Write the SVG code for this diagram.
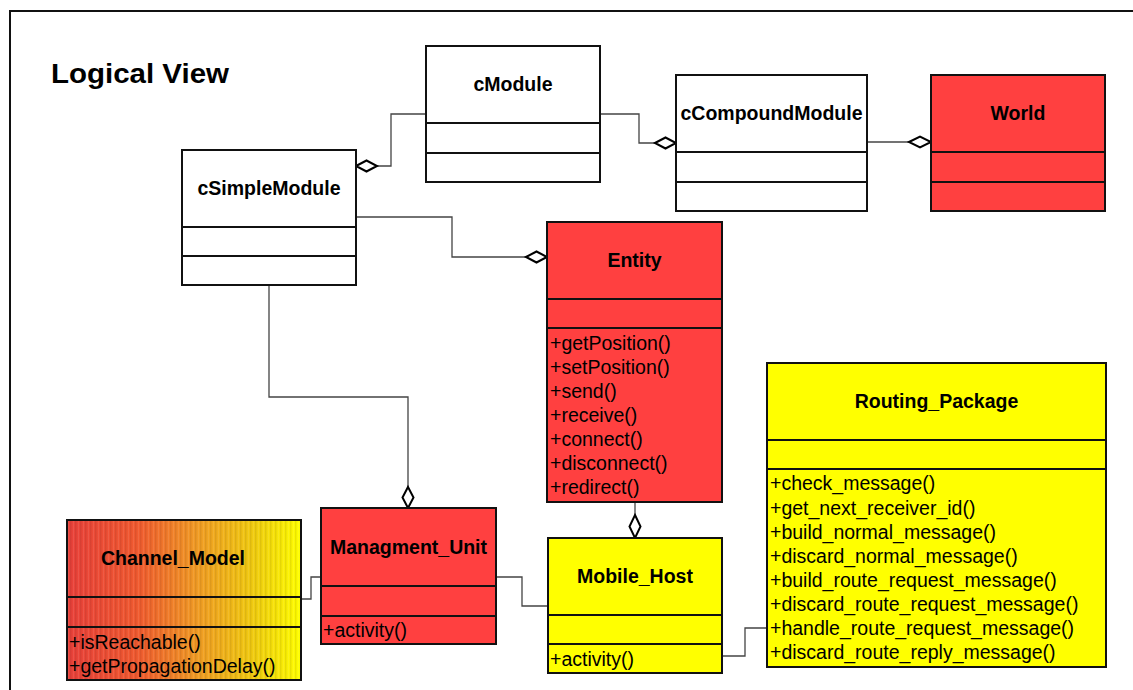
<svg xmlns="http://www.w3.org/2000/svg" width="1133" height="690" viewBox="0 0 1133 690">
<style>
.box{stroke:#111;stroke-width:2}
.div{stroke:#111;stroke-width:2}
.white{fill:#fff}
.red{fill:#ff4040}
.yellow{fill:#ffff00}
.title{font-family:"Liberation Sans",Arial,sans-serif;font-weight:bold;font-size:19.5px;fill:#000;text-anchor:middle}
.m{font-family:"Liberation Sans",Arial,sans-serif;font-size:19.5px;fill:#000}
.conn{fill:none;stroke:#444;stroke-width:1.3}
.dia{fill:#fff;stroke:#000;stroke-width:2}
</style>
<defs>
<linearGradient id="cmGrad" x1="0" y1="0" x2="1" y2="0">
<stop offset="0" stop-color="#e8403a"/>
<stop offset="0.3" stop-color="#f05a30"/>
<stop offset="0.55" stop-color="#f09a25"/>
<stop offset="0.8" stop-color="#f0cc10"/>
<stop offset="1" stop-color="#ffff00"/>
</linearGradient>
<pattern id="stripes" x="0" y="0" width="5" height="10" patternUnits="userSpaceOnUse">
<rect x="0" y="0" width="1.5" height="10" fill="#000" opacity="0.08"/>
<rect x="3" y="0" width="1" height="10" fill="#fff" opacity="0.08"/>
</pattern>
</defs>
<rect x="0" y="0" width="1133" height="690" fill="#fff"/>
<path d="M10,700 V11 H1140" fill="none" stroke="#111" stroke-width="2"/>
<text x="51" y="83" font-family="Liberation Sans, Arial, sans-serif" font-weight="bold" font-size="27" textLength="178" lengthAdjust="spacingAndGlyphs">Logical View</text>

<g id="connectors">
<path class="conn" d="M426,114 H391 V166 H377"/>
<polygon class="dia" points="356,166 366.5,160.5 377,166 366.5,171.5"/>
<path class="conn" d="M600,114 H639 V143 H655"/>
<polygon class="dia" points="655,143 665.5,137.5 676,143 665.5,148.5"/>
<path class="conn" d="M867,142 H909"/>
<polygon class="dia" points="909,142 920,136.5 931,142 920,147.5"/>
<path class="conn" d="M356,217 H452 V257 H526"/>
<polygon class="dia" points="526,257 536.5,251.5 547,257 536.5,262.5"/>
<path class="conn" d="M269,285 V397 H408 V487"/>
<polygon class="dia" points="408,487 413.5,497.5 408,508 402.5,497.5"/>
<path class="conn" d="M635,502 V515"/>
<polygon class="dia" points="635,515 640.5,526.5 635,538 629.5,526.5"/>
<path class="conn" d="M301,599 H311 V577 H321"/>
<path class="conn" d="M496,577 H522 V606 H548"/>
<path class="conn" d="M722,656 H745 V628 H767"/>
</g>

<g id="cSimpleModule">
<rect class="box white" x="182" y="150" width="174" height="135"/>
<line class="div" x1="182" y1="227" x2="356" y2="227"/>
<line class="div" x1="182" y1="256" x2="356" y2="256"/>
<text class="title" x="269" y="195">cSimpleModule</text>
</g>

<g id="cModule">
<rect class="box white" x="426" y="46" width="174" height="136"/>
<line class="div" x1="426" y1="123" x2="600" y2="123"/>
<line class="div" x1="426" y1="153" x2="600" y2="153"/>
<text class="title" x="513" y="91">cModule</text>
</g>

<g id="cCompoundModule">
<rect class="box white" x="676" y="75" width="191" height="136"/>
<line class="div" x1="676" y1="152" x2="867" y2="152"/>
<line class="div" x1="676" y1="182" x2="867" y2="182"/>
<text class="title" x="771.5" y="120">cCompoundModule</text>
</g>

<g id="World">
<rect class="box red" x="931" y="75" width="174" height="136"/>
<line class="div" x1="931" y1="152" x2="1105" y2="152"/>
<line class="div" x1="931" y1="182" x2="1105" y2="182"/>
<text class="title" x="1018" y="120">World</text>
</g>

<g id="Entity">
<rect class="box red" x="547" y="222" width="175" height="280"/>
<line class="div" x1="547" y1="299" x2="722" y2="299"/>
<line class="div" x1="547" y1="328" x2="722" y2="328"/>
<text class="title" x="634.5" y="267">Entity</text>
<text class="m" x="550" y="350">+getPosition()</text>
<text class="m" x="550" y="374">+setPosition()</text>
<text class="m" x="550" y="398">+send()</text>
<text class="m" x="550" y="422">+receive()</text>
<text class="m" x="550" y="445.5">+connect()</text>
<text class="m" x="550" y="469.5">+disconnect()</text>
<text class="m" x="550" y="493.5">+redirect()</text>
</g>

<g id="Routing_Package">
<rect class="box yellow" x="767" y="363" width="339" height="304"/>
<line class="div" x1="767" y1="440" x2="1106" y2="440"/>
<line class="div" x1="767" y1="469" x2="1106" y2="469"/>
<text class="title" x="936.5" y="408">Routing_Package</text>
<text class="m" x="770" y="490">+check_message()</text>
<text class="m" x="770" y="514.5">+get_next_receiver_id()</text>
<text class="m" x="770" y="538.5">+build_normal_message()</text>
<text class="m" x="770" y="562.5">+discard_normal_message()</text>
<text class="m" x="770" y="587">+build_route_request_message()</text>
<text class="m" x="770" y="611">+discard_route_request_message()</text>
<text class="m" x="770" y="635">+handle_route_request_message()</text>
<text class="m" x="770" y="659">+discard_route_reply_message()</text>
</g>

<g id="Channel_Model">
<rect x="67" y="520" width="234" height="160" fill="url(#cmGrad)"/>
<rect x="67" y="520" width="234" height="160" fill="url(#stripes)"/>
<rect class="box" x="67" y="520" width="234" height="160" fill="none"/>
<line class="div" x1="67" y1="597" x2="301" y2="597"/>
<line class="div" x1="67" y1="627" x2="301" y2="627"/>
<text class="title" x="173" y="565">Channel_Model</text>
<text class="m" x="69" y="649">+isReachable()</text>
<text class="m" x="69" y="672.5">+getPropagationDelay()</text>
</g>

<g id="Managment_Unit">
<rect class="box red" x="321" y="508" width="175" height="136"/>
<line class="div" x1="321" y1="586" x2="496" y2="586"/>
<line class="div" x1="321" y1="616" x2="496" y2="616"/>
<text class="title" x="408.5" y="554">Managment_Unit</text>
<text class="m" x="323" y="637">+activity()</text>
</g>

<g id="Mobile_Host">
<rect class="box yellow" x="548" y="538" width="174" height="135"/>
<line class="div" x1="548" y1="615" x2="722" y2="615"/>
<line class="div" x1="548" y1="644" x2="722" y2="644"/>
<text class="title" x="635" y="583">Mobile_Host</text>
<text class="m" x="550" y="666">+activity()</text>
</g>
</svg>
